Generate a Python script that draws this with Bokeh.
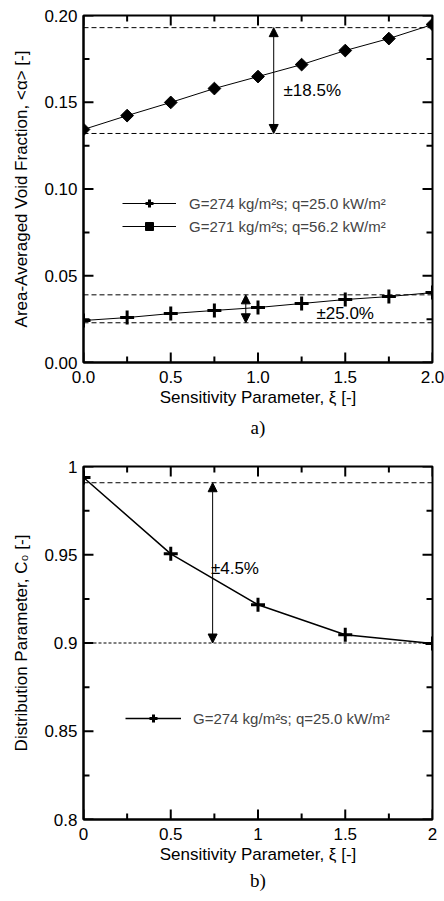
from bokeh.plotting import figure
from bokeh.models import (Range1d, SingleIntervalTicker, CustomJSTickFormatter,
                          Span, Arrow, NormalHead, Label, Title)
from bokeh.layouts import column
from bokeh.embed import file_html
from bokeh.resources import INLINE
import numpy as np

# ---- data (panel a) ----
xi_a = [0.0, 0.25, 0.5, 0.75, 1.0, 1.25, 1.5, 1.75, 2.0]
alpha_q25 = [0.0242, 0.0259, 0.0282, 0.0300, 0.0317, 0.0340, 0.0363, 0.0380, 0.0403]
alpha_q56 = [0.1343, 0.1423, 0.1499, 0.1579, 0.1648, 0.1717, 0.1798, 0.1867, 0.1948]
band_q56 = [0.132, 0.193]
band_q25 = [0.0229, 0.039]
arrow_x_a = [1.09, 0.93]
label_a = ["±18.5%", "±25.0%"]
label_a_pos = [(1.146, 0.1568), (1.335, 0.0282)]
legend_a = ["G=274 kg/m²s; q=25.0 kW/m²", "G=271 kg/m²s; q=56.2 kW/m²"]

# ---- data (panel b) ----
xi_b = [0.0, 0.5, 1.0, 1.5, 2.0]
c0_b = [0.9938, 0.9505, 0.9217, 0.9047, 0.8997]
band_b = [0.900, 0.9908]
arrow_x_b = 0.74
label_b = "±4.5%"
label_b_pos = (0.73, 0.9422)
legend_b = "G=274 kg/m²s; q=25.0 kW/m²"

# ---- tick positions ----
x_major = [0.0, 0.5, 1.0, 1.5, 2.0]
x_minor = [0.25, 0.75, 1.25, 1.75]
ya_major = [0.0, 0.05, 0.10, 0.15, 0.20]
ya_minor = [0.025, 0.075, 0.125, 0.175]
yb_major = [0.80, 0.85, 0.90, 0.95, 1.00]
yb_minor = [0.825, 0.875, 0.925, 0.975]

FONT = "Liberation Sans"
SERIF = "Liberation Serif"


def style(p, ylabel, xfmt, yfmt, yint, xr, yr, ymaj, ymin, caption, cap_standoff):
    p.outline_line_color = "black"
    p.outline_line_width = 2
    p.xgrid.visible = False
    p.ygrid.visible = False
    p.xaxis.ticker = SingleIntervalTicker(interval=0.5, num_minor_ticks=2)
    p.yaxis.ticker = SingleIntervalTicker(interval=yint, num_minor_ticks=2)
    p.xaxis.formatter = CustomJSTickFormatter(code=xfmt)
    p.yaxis.formatter = CustomJSTickFormatter(code=yfmt)
    p.xaxis.axis_label = "Sensitivity Parameter, ξ [-]"
    p.yaxis.axis_label = ylabel
    for ax in p.axis:
        ax.axis_line_width = 2
        ax.axis_line_color = "black"
        ax.major_tick_in = 0
        ax.major_tick_out = 0
        ax.minor_tick_in = 0
        ax.minor_tick_out = 0
        ax.major_label_text_font = FONT
        ax.major_label_text_font_size = "17px"
        ax.major_label_text_color = "black"
        ax.axis_label_text_font = FONT
        ax.axis_label_text_font_size = "17px"
        ax.axis_label_text_font_style = "normal"
        ax.axis_label_text_color = "black"
    p.below[0].major_label_standoff = 8
    p.below[0].axis_label_standoff = 2
    p.left[0].major_label_standoff = 6
    p.left[0].axis_label_standoff = 10
    # inward ticks on all four sides, drawn as short segments
    dx = (xr[1] - xr[0]) / 350.0   # data units per pixel (x)
    dy = (yr[1] - yr[0]) / 350.0   # data units per pixel (y)
    for xs, ln in ((x_major, 10), (x_minor, 6)):
        n = len(xs)
        p.segment(xs, [yr[0]] * n, xs, [yr[0] + ln * dy] * n, line_width=2, line_color="black")
        p.segment(xs, [yr[1]] * n, xs, [yr[1] - ln * dy] * n, line_width=2, line_color="black")
    for ys, ln in ((ymaj, 10), (ymin, 6)):
        n = len(ys)
        p.segment([xr[0]] * n, ys, [xr[0] + ln * dx] * n, ys, line_width=2, line_color="black")
        p.segment([xr[1]] * n, ys, [xr[1] - ln * dx] * n, ys, line_width=2, line_color="black")
    p.add_layout(Title(text=caption, align="center", text_font=SERIF,
                       text_font_size="19px", text_font_style="normal",
                       text_color="black", standoff=cap_standoff), "below")


# ---------------- panel a ----------------
pa = figure(width=444, height=448, output_backend="svg", toolbar_location=None,
            x_range=Range1d(0, 2), y_range=Range1d(0, 0.2),
            min_border_left=83, min_border_right=12, min_border_top=15, min_border_bottom=86)
style(pa, "Area-Averaged Void Fraction, <α> [-]",
      "return tick.toFixed(1);", "return tick.toFixed(2);", 0.05,
      (0, 2), (0, 0.2), ya_major, ya_minor, "a)", 10)

for yv in band_q56 + band_q25:
    pa.add_layout(Span(location=yv, dimension="width", line_color="black",
                       line_width=1, line_dash="5 3"))

pa.line(xi_a, alpha_q25, line_color="black", line_width=1, legend_label=legend_a[0])
pa.scatter(xi_a, alpha_q25, marker="cross", size=14, line_width=3, line_color="black",
           legend_label=legend_a[0])
pa.line(xi_a, alpha_q56, line_color="black", line_width=1, legend_label=legend_a[1])
pa.scatter(xi_a, alpha_q56, marker="square", angle=np.pi / 4, size=9,
           fill_color="black", line_color="black", legend_label=legend_a[1])

for xa, band in zip(arrow_x_a, [band_q56, band_q25]):
    pa.add_layout(Arrow(x_start=xa, x_end=xa, y_start=band[0], y_end=band[1],
                        line_width=1, line_color="black",
                        start=NormalHead(size=9, fill_color="black", line_color="black"),
                        end=NormalHead(size=9, fill_color="black", line_color="black")))
for txt, (lx, ly) in zip(label_a, label_a_pos):
    pa.add_layout(Label(x=lx, y=ly, text=txt, text_font=FONT, text_font_size="17px",
                        text_baseline="middle", text_align="left", text_color="black"))

pa.legend.location = (39, 126)
pa.legend.padding = 0
pa.legend.margin = 0
pa.legend.spacing = 3
pa.legend.border_line_color = None
pa.legend.background_fill_alpha = 0
pa.legend.glyph_width = 54
pa.legend.glyph_height = 20
pa.legend.label_height = 20
pa.legend.label_standoff = 13
pa.legend.label_text_font = FONT
pa.legend.label_text_font_size = "15px"

# ---------------- panel b ----------------
pb = figure(width=444, height=450, output_backend="svg", toolbar_location=None,
            x_range=Range1d(0, 2), y_range=Range1d(0.8, 1.0),
            min_border_left=83, min_border_right=8, min_border_top=18, min_border_bottom=79)
fmt = "return String(parseFloat(tick.toFixed(3)));"
style(pb, "Distribution Parameter, C₀ [-]", fmt, fmt, 0.05,
      (0, 2), (0.8, 1.0), yb_major, yb_minor, "b)", 2)

pb.add_layout(Span(location=band_b[1], dimension="width", line_color="black",
                   line_width=1, line_dash="5 3"))
pb.add_layout(Span(location=band_b[0], dimension="width", line_color="black",
                   line_width=1, line_dash="3 2"))

pb.line(xi_b, c0_b, line_color="black", line_width=1.5, legend_label=legend_b)
pb.scatter(xi_b, c0_b, marker="cross", size=14, line_width=3, line_color="black",
           legend_label=legend_b)

pb.add_layout(Arrow(x_start=arrow_x_b, x_end=arrow_x_b, y_start=band_b[0], y_end=band_b[1],
                    line_width=1, line_color="black",
                    start=NormalHead(size=9, fill_color="black", line_color="black"),
                    end=NormalHead(size=9, fill_color="black", line_color="black")))
pb.add_layout(Label(x=label_b_pos[0], y=label_b_pos[1], text=label_b, text_font=FONT,
                    text_font_size="17px", text_baseline="middle", text_align="left",
                    text_color="black"))

pb.legend.location = (42, 91)
pb.legend.padding = 0
pb.legend.margin = 0
pb.legend.border_line_color = None
pb.legend.background_fill_alpha = 0
pb.legend.glyph_width = 56
pb.legend.glyph_height = 20
pb.legend.label_height = 20
pb.legend.label_standoff = 12
pb.legend.label_text_font = FONT
pb.legend.label_text_font_size = "15px"

layout = column(pa, pb, spacing=0)
open("out.html", "w").write(file_html(layout, INLINE))
